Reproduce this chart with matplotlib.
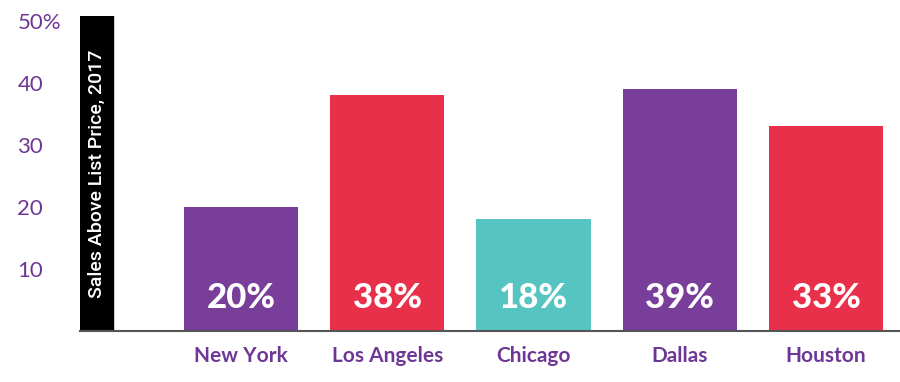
import numpy as np
import matplotlib.pyplot as plt
from matplotlib.patches import Rectangle

# data
cities = ['New York', 'Los Angeles', 'Chicago', 'Dallas', 'Houston']
values = [20, 38, 18, 39, 33]
colors = ['#783e9a', '#e8304a', '#56c5c1', '#783e9a', '#e8304a']
yticks = [10, 20, 30, 40, 50]
ytick_labels = ['10', '20', '30', '40', '50%']

purple = '#6e3795'

fig = plt.figure(figsize=(9, 3.82), dpi=100)
ax = fig.add_axes([80/900, 51/382, 820/900, 315/382])

x = np.arange(len(cities))
ax.bar(x, values, width=0.78, color=colors, zorder=2)

for xi, v in zip(x, values):
    ax.text(xi, 5.3, f'{v}%', ha='center', va='center', color='white',
            fontsize=25, fontweight='black', family='Lato', zorder=3)

ax.set_xlim(-1.101, 4.506)
ax.set_ylim(0, 50.8)

# black band with the axis title
ax.add_patch(Rectangle((0, 0), 33/820, 1, transform=ax.transAxes,
                       color='black', zorder=1))
ax.text(17/820, 0.5, 'Sales Above List Price, 2017', transform=ax.transAxes,
        rotation=90, ha='center', va='center', color='white', fontsize=14,
        family='Roboto', fontweight='medium')

ax.set_xticks(x)
ax.set_xticklabels(cities, color=purple, fontsize=15, fontweight='bold',
                   family='Lato')
ax.set_yticks(yticks)
ax.set_yticklabels(ytick_labels, color=purple, fontsize=16, family='Lato',
                   ha='left')
ax.tick_params(axis='x', length=0, pad=11)
ax.tick_params(axis='y', length=0, pad=45)

for s in ['top', 'right', 'left']:
    ax.spines[s].set_visible(False)
ax.spines['bottom'].set_color('#555555')
ax.spines['bottom'].set_linewidth(1.5)

fig.savefig('out.png', dpi=100)
